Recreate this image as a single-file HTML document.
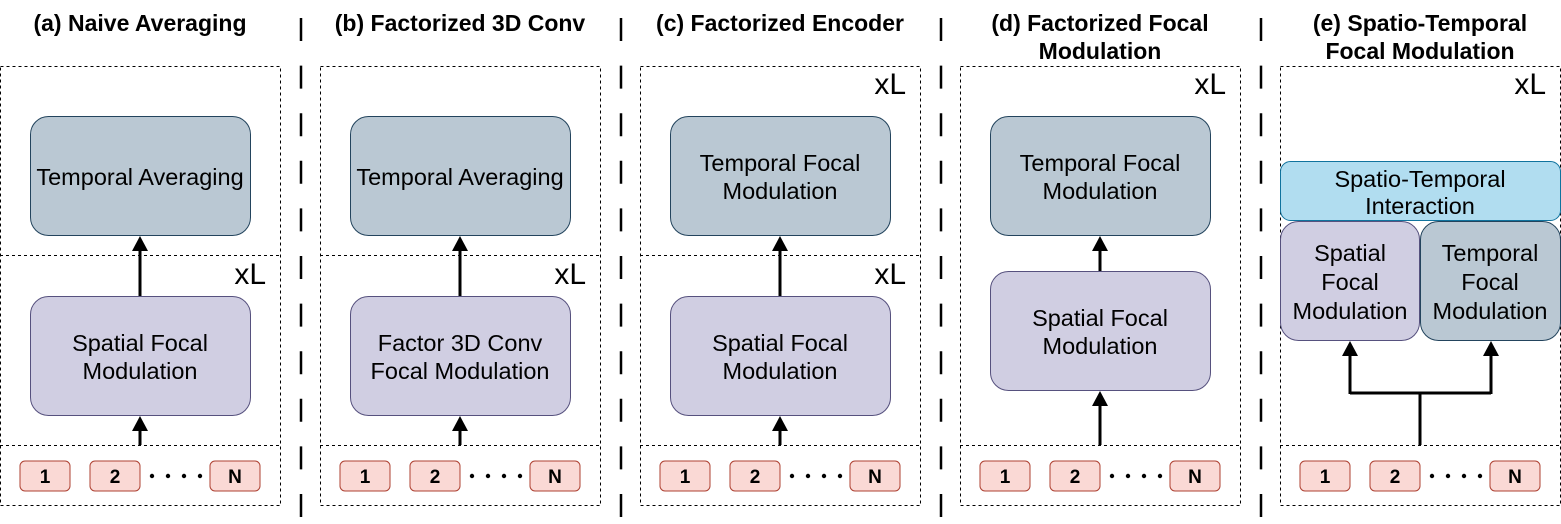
<!DOCTYPE html>
<html><head><meta charset="utf-8"><style>
html,body{margin:0;padding:0;background:#fff;}
svg{display:block;}
text{font-family:"Liberation Sans",Arial,sans-serif;}
.t{font-size:23.5px;fill:#000;text-anchor:middle;}
.h{font-size:23px;font-weight:bold;text-anchor:middle;}
.xl{font-size:30px;text-anchor:end;}
.tok{font-size:19px;font-weight:bold;text-anchor:middle;}
.dash{fill:none;stroke:#000;stroke-width:1;stroke-dasharray:3 3;}
.tmp{fill:#bac8d3;stroke:#23445d;stroke-width:1;}
.sp{fill:#d0cee2;stroke:#56517e;stroke-width:1;}
.tk{fill:#fad9d5;stroke:#ae4132;stroke-width:1;}
.bl{fill:#b1ddf0;stroke:#10739e;stroke-width:1;}
.ar{stroke:#000;stroke-width:3;fill:none;}
</style></head><body>
<svg width="1561" height="524" viewBox="0 0 1561 524" xmlns="http://www.w3.org/2000/svg">
<defs>
<g id="tokens">
<rect class="tk" x="20" y="461" width="50" height="30" rx="5"/>
<text class="tok" x="45" y="483">1</text>
<rect class="tk" x="90" y="461" width="50" height="30" rx="5"/>
<text class="tok" x="115" y="483">2</text>
<rect class="tk" x="210" y="461" width="50" height="30" rx="5"/>
<text class="tok" x="235" y="483">N</text>
<circle cx="152" cy="476" r="2.2"/><circle cx="168" cy="476" r="2.2"/><circle cx="184" cy="476" r="2.2"/><circle cx="200" cy="476" r="2.2"/>
</g>
</defs>
<g stroke="#000" stroke-width="2.5" stroke-dasharray="23 24.6">
<line x1="301" y1="18" x2="301" y2="524"/>
<line x1="621" y1="18" x2="621" y2="524"/>
<line x1="941" y1="18" x2="941" y2="524"/>
<line x1="1261" y1="18" x2="1261" y2="524"/>
</g>

<g transform="translate(0,0)">
<text class="h" x="140" y="31">(a) Naive Averaging</text>
<rect class="dash" x="0.5" y="66.5" width="280" height="439"/>
<line class="dash" x1="0" y1="255.5" x2="280" y2="255.5"/>
<line class="dash" x1="0" y1="445.5" x2="280" y2="445.5"/>
<rect class="tmp" x="30.5" y="116.5" width="220" height="119" rx="18"/>
<text class="t" x="140" y="185">Temporal Averaging</text>
<rect class="sp" x="30.5" y="296.5" width="220" height="119" rx="18"/>
<text class="t" x="140" y="351">Spatial Focal</text>
<text class="t" x="140" y="379">Modulation</text>
<text class="xl" x="266" y="284">xL</text>
<line class="ar" x1="140" y1="296" x2="140" y2="246"/><path d="M132,251 L140,236 L148,251 Z"/>
<line class="ar" x1="140" y1="445" x2="140" y2="426"/><path d="M132,431 L140,416 L148,431 Z"/>
<use href="#tokens"/>
</g>

<g transform="translate(320,0)">
<text class="h" x="140" y="31">(b) Factorized 3D Conv</text>
<rect class="dash" x="0.5" y="66.5" width="280" height="439"/>
<line class="dash" x1="0" y1="255.5" x2="280" y2="255.5"/>
<line class="dash" x1="0" y1="445.5" x2="280" y2="445.5"/>
<rect class="tmp" x="30.5" y="116.5" width="220" height="119" rx="18"/>
<text class="t" x="140" y="185">Temporal Averaging</text>
<rect class="sp" x="30.5" y="296.5" width="220" height="119" rx="18"/>
<text class="t" x="140" y="351">Factor 3D Conv</text>
<text class="t" x="140" y="379">Focal Modulation</text>
<text class="xl" x="266" y="284">xL</text>
<line class="ar" x1="140" y1="296" x2="140" y2="246"/><path d="M132,251 L140,236 L148,251 Z"/>
<line class="ar" x1="140" y1="445" x2="140" y2="426"/><path d="M132,431 L140,416 L148,431 Z"/>
<use href="#tokens"/>
</g>

<g transform="translate(640,0)">
<text class="h" x="140" y="31">(c) Factorized Encoder</text>
<rect class="dash" x="0.5" y="66.5" width="280" height="439"/>
<line class="dash" x1="0" y1="255.5" x2="280" y2="255.5"/>
<line class="dash" x1="0" y1="445.5" x2="280" y2="445.5"/>
<rect class="tmp" x="30.5" y="116.5" width="220" height="119" rx="18"/>
<text class="t" x="140" y="171">Temporal Focal</text>
<text class="t" x="140" y="199">Modulation</text>
<rect class="sp" x="30.5" y="296.5" width="220" height="119" rx="18"/>
<text class="t" x="140" y="351">Spatial Focal</text>
<text class="t" x="140" y="379">Modulation</text>
<text class="xl" x="266" y="94">xL</text>
<text class="xl" x="266" y="284">xL</text>
<line class="ar" x1="140" y1="296" x2="140" y2="246"/><path d="M132,251 L140,236 L148,251 Z"/>
<line class="ar" x1="140" y1="445" x2="140" y2="426"/><path d="M132,431 L140,416 L148,431 Z"/>
<use href="#tokens"/>
</g>

<g transform="translate(960,0)">
<text class="h" x="140" y="31">(d) Factorized Focal</text>
<text class="h" x="140" y="59">Modulation</text>
<rect class="dash" x="0.5" y="66.5" width="280" height="439"/>
<line class="dash" x1="0" y1="445.5" x2="280" y2="445.5"/>
<rect class="tmp" x="30.5" y="116.5" width="220" height="119" rx="18"/>
<text class="t" x="140" y="171">Temporal Focal</text>
<text class="t" x="140" y="199">Modulation</text>
<rect class="sp" x="30.5" y="271.5" width="220" height="119" rx="18"/>
<text class="t" x="140" y="326">Spatial Focal</text>
<text class="t" x="140" y="354">Modulation</text>
<text class="xl" x="266" y="94">xL</text>
<line class="ar" x1="140" y1="271" x2="140" y2="246"/><path d="M132,251 L140,236 L148,251 Z"/>
<line class="ar" x1="140" y1="445" x2="140" y2="401"/><path d="M132,406 L140,391 L148,406 Z"/>
<use href="#tokens"/>
</g>

<g transform="translate(1280,0)">
<text class="h" x="140" y="31">(e) Spatio-Temporal</text>
<text class="h" x="140" y="59">Focal Modulation</text>
<rect class="dash" x="0.5" y="66.5" width="280" height="439"/>
<line class="dash" x1="0" y1="445.5" x2="280" y2="445.5"/>
<text class="xl" x="266" y="94">xL</text>
<rect class="bl" x="0.5" y="161.5" width="280" height="59" rx="10"/>
<text class="t" x="140" y="187">Spatio-Temporal</text>
<text class="t" x="140" y="214">Interaction</text>
<rect class="sp" x="0.5" y="221.5" width="139" height="119" rx="18"/>
<text class="t" x="70" y="261">Spatial</text>
<text class="t" x="70" y="290">Focal</text>
<text class="t" x="70" y="319">Modulation</text>
<rect class="tmp" x="140.5" y="221.5" width="140" height="119" rx="18"/>
<text class="t" x="210" y="261">Temporal</text>
<text class="t" x="210" y="290">Focal</text>
<text class="t" x="210" y="319">Modulation</text>
<path class="ar" d="M140,445 V393 M70,393 H211 M70,394 V351 M211,394 V351"/>
<path d="M62,356 L70,341 L78,356 Z"/><path d="M203,356 L211,341 L219,356 Z"/>
<use href="#tokens"/>
</g>
</svg>
</body></html>
